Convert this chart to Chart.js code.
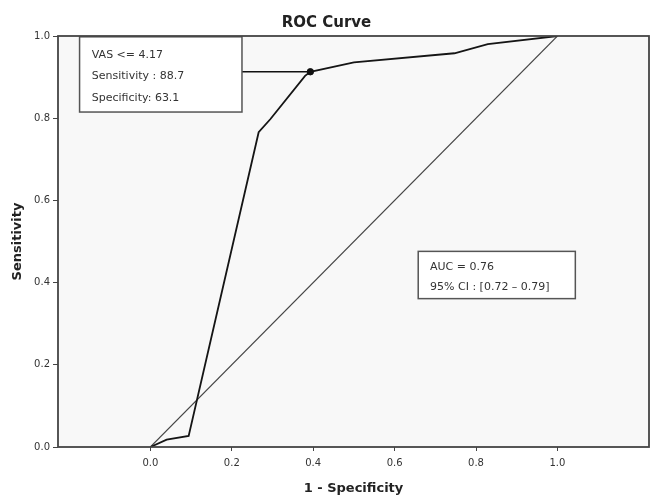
<!DOCTYPE html>
<html>
<head>
<meta charset="utf-8">
<script src="https://cdn.jsdelivr.net/npm/chart.js@4.4.1/dist/chart.umd.min.js"></script>
<style>
  html, body { margin: 0; padding: 0; background: #ffffff; }
  #wrap { width: 654px; height: 496px; }
</style>
</head>
<body>
<div id="wrap"><canvas id="c" width="654" height="496"></canvas></div>
<script>
// ---- data ----
const fpr = [0, 0.04, 0.094, 0.266, 0.295, 0.38, 0.393, 0.50, 0.747, 0.829, 1.0];
const tpr = [0, 0.018, 0.027, 0.766, 0.798, 0.903, 0.913, 0.936, 0.958, 0.980, 1.0];
const refX = [0, 1];
const refY = [0, 1];
const cutoffX = [0.393];
const cutoffY = [0.913];
const xTickValues = [0, 0.2, 0.4, 0.6, 0.8, 1.0];
const yTickValues = [0, 0.2, 0.4, 0.6, 0.8, 1.0];
const cutoffText = ["VAS <= 4.17", "Sensitivity : 88.7", "Specificity: 63.1"];
const aucText = ["AUC = 0.76", "95% CI : [0.72 \u2013 0.79]"];
const chartTitle = "ROC Curve";
const xTitle = "1 - Specificity";
const yTitle = "Sensitivity";

const toPts = (xs, ys) => xs.map((x, i) => ({ x: x, y: ys[i] }));

const frame = {
  id: 'frame',
  beforeDatasetsDraw(chart) {
    const { ctx, chartArea: a } = chart;
    ctx.save();
    ctx.fillStyle = '#f8f8f8';
    ctx.fillRect(a.left, a.top, a.right - a.left, a.bottom - a.top);
    ctx.restore();
  },
  afterDatasetsDraw(chart) {
    const { ctx, chartArea: a, scales } = chart;
    const xs = scales.x, ys = scales.y;
    ctx.save();
    // annotation box 1 + connector
    const b1 = { x0: xs.getPixelForValue(-0.174), x1: xs.getPixelForValue(0.225),
                 y0: ys.getPixelForValue(0.998), y1: ys.getPixelForValue(0.815) };
    const px = xs.getPixelForValue(cutoffX[0]), py = ys.getPixelForValue(cutoffY[0]);
    ctx.strokeStyle = '#111';
    ctx.lineWidth = 1.6;
    ctx.beginPath(); ctx.moveTo(b1.x1, py); ctx.lineTo(px, py); ctx.stroke();
    ctx.fillStyle = '#ffffff';
    ctx.fillRect(b1.x0, b1.y0, b1.x1 - b1.x0, b1.y1 - b1.y0);
    ctx.strokeStyle = '#555';
    ctx.lineWidth = 1.5;
    ctx.strokeRect(b1.x0, b1.y0, b1.x1 - b1.x0, b1.y1 - b1.y0);
    ctx.fillStyle = '#333';
    ctx.font = '11px "DejaVu Sans"';
    ctx.textBaseline = 'middle';
    ctx.textAlign = 'left';
    const t1y = [0.954, 0.902, 0.849];
    cutoffText.forEach((s, i) => ctx.fillText(s, xs.getPixelForValue(-0.144), ys.getPixelForValue(t1y[i])));
    // annotation box 2
    const b2 = { x0: xs.getPixelForValue(0.658), x1: xs.getPixelForValue(1.044),
                 y0: ys.getPixelForValue(0.476), y1: ys.getPixelForValue(0.361) };
    ctx.fillStyle = '#ffffff';
    ctx.fillRect(b2.x0, b2.y0, b2.x1 - b2.x0, b2.y1 - b2.y0);
    ctx.strokeStyle = '#555';
    ctx.strokeRect(b2.x0, b2.y0, b2.x1 - b2.x0, b2.y1 - b2.y0);
    ctx.fillStyle = '#333';
    const t2y = [0.437, 0.39];
    aucText.forEach((s, i) => ctx.fillText(s, xs.getPixelForValue(0.687), ys.getPixelForValue(t2y[i])));
    // plot frame
    ctx.strokeStyle = '#444';
    ctx.lineWidth = 1.8;
    ctx.strokeRect(a.left, a.top, a.right - a.left, a.bottom - a.top);
    ctx.restore();
  }
};

new Chart(document.getElementById('c'), {
  type: 'scatter',
  data: {
    datasets: [
      { data: toPts(refX, refY), showLine: true, borderColor: '#444', borderWidth: 1.1, pointRadius: 0, order: 3 },
      { data: toPts(fpr, tpr), showLine: true, borderColor: '#151515', borderWidth: 1.8, pointRadius: 0, tension: 0, order: 2 },
      { data: toPts(cutoffX, cutoffY), showLine: false, pointRadius: 3.2, backgroundColor: '#111', borderColor: '#111', order: 1 }
    ]
  },
  options: {
    responsive: false,
    animation: false,
    devicePixelRatio: 1,
    layout: { padding: { left: 0, right: 1, top: 0, bottom: 0 } },
    plugins: {
      legend: { display: false },
      tooltip: { enabled: false },
      title: {
        display: true, text: chartTitle, color: '#222',
        font: { family: 'DejaVu Sans', size: 15, weight: 'bold' },
        padding: { top: 14, bottom: 4 }
      }
    },
    scales: {
      x: {
        type: 'linear', min: -0.227, max: 1.225,
        afterBuildTicks: s => { s.ticks = xTickValues.map(v => ({ value: v })); },
        afterFit: s => { s.height = 49; },
        ticks: { callback: v => Number(v).toFixed(1), color: '#333', padding: 6,
                 font: { family: 'DejaVu Sans', size: 10 }, maxRotation: 0, autoSkip: false },
        grid: { drawOnChartArea: false, drawTicks: true, tickLength: 4, color: '#444', lineWidth: 1 },
        border: { display: false },
        title: { display: true, text: xTitle, color: '#222', padding: { top: 0, bottom: 0 },
                 font: { family: 'DejaVu Sans', size: 13, weight: 'bold' } }
      },
      y: {
        type: 'linear', min: 0, max: 1,
        afterBuildTicks: s => { s.ticks = yTickValues.map(v => ({ value: v })); },
        afterFit: s => { s.width = 58; },
        ticks: { callback: v => Number(v).toFixed(1), color: '#333', padding: 3,
                 font: { family: 'DejaVu Sans', size: 10 }, autoSkip: false },
        grid: { drawOnChartArea: false, drawTicks: true, tickLength: 5, color: '#444', lineWidth: 1 },
        border: { display: false },
        title: { display: true, text: yTitle, color: '#222', padding: { top: 10, bottom: 0 },
                 font: { family: 'DejaVu Sans', size: 13, weight: 'bold' } }
      }
    }
  },
  plugins: [frame]
});
</script>
</body>
</html>
